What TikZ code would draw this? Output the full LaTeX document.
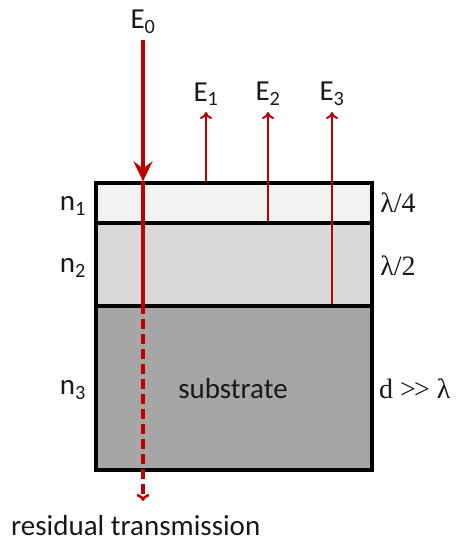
\documentclass[tikz,border=0pt]{standalone}
\usepackage{fontspec}
\setmainfont{Carlito}
\newfontfamily\seriffont{Liberation Serif}
\usetikzlibrary{arrows.meta}
\definecolor{ray}{HTML}{C00000}
\definecolor{lay1}{HTML}{F2F2F2}
\definecolor{lay2}{HTML}{D9D9D9}
\definecolor{lay3}{HTML}{A6A6A6}
\begin{document}
\begin{tikzpicture}[x=1pt,y=-1pt,
  lbl/.style={font=\fontsize{29}{34}\selectfont, inner sep=0pt, text=black!90},
  slbl/.style={font=\seriffont\fontsize{28}{32}\selectfont, inner sep=0pt, text=black!90},
  layer/.style={draw=black, line width=3.2pt, minimum width=276pt, inner sep=0pt},
  incident/.style={draw=ray, line width=4.5pt, -{Stealth[length=20pt,width=19pt,inset=7pt]}},
  beam/.style={draw=ray, line width=3.2pt},
  reflect/.style={draw=ray, line width=2pt, -{To[length=7pt,width=12pt,line width=2pt]}},
  trans/.style={draw=ray, line width=3.2pt, dash pattern=on 10pt off 5pt, -{To[length=7pt,width=13pt,line width=2.5pt]}}
]
\useasboundingbox (0,0) rectangle (459,545);
% layers
\node[layer, fill=lay3, minimum height=164pt] (L3) at (234,388) {};
\node[layer, fill=lay2, minimum height=83pt] (L2) at (234,264.5) {};
\node[layer, fill=lay1, minimum height=40pt] (L1) at (234,203) {};
% labels
\node[lbl] (E0) at (143,22) {E\textsubscript{0}};
\node[lbl] (E1) at (206,94) {E\textsubscript{1}};
\node[lbl] (E2) at (268,94) {E\textsubscript{2}};
\node[lbl] (E3) at (332,94) {E\textsubscript{3}};
\node[lbl] (n1) at (73,206) {n\textsubscript{1}};
\node[lbl] (n2) at (73,268) {n\textsubscript{2}};
\node[lbl] (n3) at (73,390) {n\textsubscript{3}};
\node[slbl] (q1) at (398,203) {λ/4};
\node[slbl] (q2) at (398,266) {λ/2};
\node[slbl, anchor=west] (dd) at (379,389) {d >\kern-2pt> λ};
\node[lbl] (sub) at (233,389) {substrate};
\node[lbl, anchor=west] (res) at (11,526) {residual transmission};
% coordinates
\coordinate (inS) at (143,40);
\coordinate (inE) at (inS |- L1.north);
\coordinate (mid) at (inS |- L3.north);
\coordinate (outE) at (143,501);
\coordinate (r1e) at (206,112);
\coordinate (r1s) at (r1e |- L1.north);
\coordinate (r2e) at (268,112);
\coordinate (r2s) at (r2e |- L2.north);
\coordinate (r3e) at (332,112);
\coordinate (r3s) at (r3e |- L3.north);
% rays
\draw[beam] (inE) -- (mid);
\draw[trans] (mid) -- (outE);
\draw[reflect] (r1s) -- (r1e);
\draw[reflect] (r2s) -- (r2e);
\draw[reflect] (r3s) -- (r3e);
\draw[incident] (inS) -- (inE);
\end{tikzpicture}
\end{document}
